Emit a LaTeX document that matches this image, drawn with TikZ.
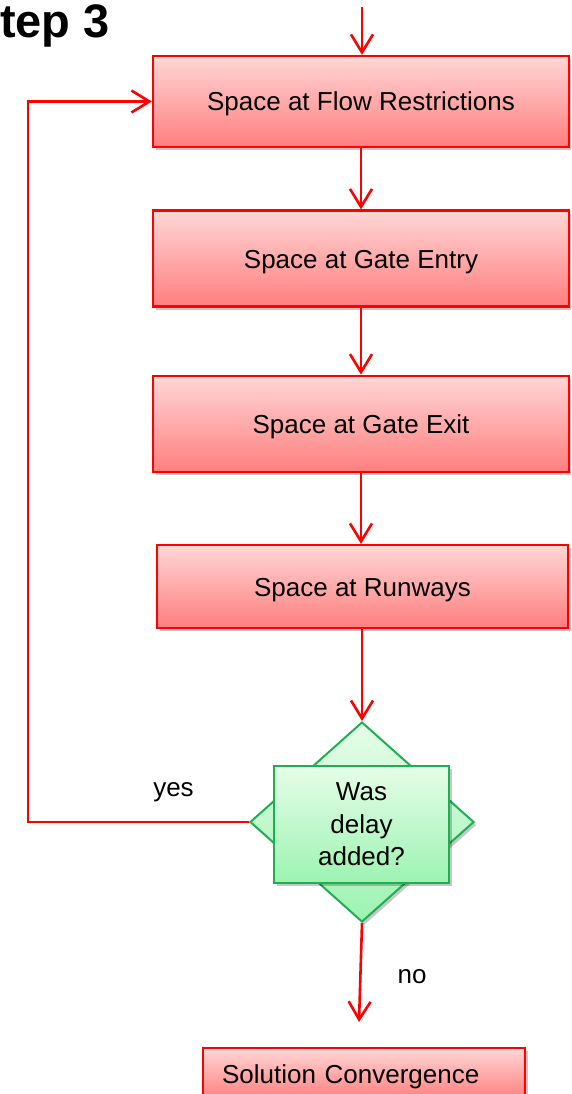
\documentclass[tikz,border=0pt]{standalone}
\usepackage{fontspec}
\setmainfont{Liberation Sans}
\usetikzlibrary{arrows.meta,shadows,shapes.geometric,calc}

\definecolor{linered}{RGB}{255,0,0}
\definecolor{redtop}{RGB}{255,214,214}
\definecolor{redbot}{RGB}{255,126,126}
\definecolor{grnline}{RGB}{30,175,80}
\definecolor{grntop}{RGB}{230,253,232}
\definecolor{grnbot}{RGB}{156,243,178}

\tikzset{
  softshadow/.style={drop shadow={opacity=0.22,shadow xshift=2.5pt,shadow yshift=-3pt,fill=black}},
  procbox/.style={rectangle, draw=linered, line width=2.2pt, top color=redtop, bottom color=redbot,
    softshadow, inner sep=0pt, align=center, text height=19pt, text depth=0pt},
  decisionshape/.style={diamond, draw=grnline, line width=2pt, top color=grntop, bottom color=grnbot,
    softshadow, inner sep=0pt, minimum width=224pt, minimum height=200pt},
  decisionbox/.style={rectangle, draw=grnline, line width=2pt, top color=grntop, bottom color=grnbot,
    softshadow, inner sep=0pt, align=center, minimum width=175pt, minimum height=117pt},
  flow/.style={draw=linered, line width=2.6pt, -{Straight Barb[length=18pt,width=22pt]}},
}

\begin{document}
\begin{tikzpicture}[x=1pt,y=-1pt,font=\fontsize{26}{32.5}\selectfont]
  \useasboundingbox (0,0) rectangle (571,1094);
  \clip (0,0) rectangle (571,1094);

  % heading
  \node[anchor=base east, inner sep=0pt, font=\fontsize{47}{50}\selectfont\bfseries] (title) at (110,38) {tep 3};

  % process boxes
  \node[procbox, minimum width=416pt, minimum height=91pt] (b1) at (361,101.5) {Space at Flow Restrictions};
  \node[procbox, minimum width=416pt, minimum height=96pt] (b2) at (361,258.5) {Space at Gate Entry};
  \node[procbox, minimum width=416pt, minimum height=96.5pt] (b3) at (361,424) {Space at Gate Exit};
  \node[procbox, minimum width=411pt, minimum height=83pt] (b4) at (362.5,586.5) {Space at Runways};

  % decision
  \node[decisionshape] (d) at (362,822) {};
  \node[decisionbox] (q) at (361.5,824.5) {Was\\delay\\added?};

  % final box
  \node[procbox, anchor=north west, align=left, text width=284pt, inner xsep=19pt,
        minimum height=52pt] (sol) at (202,1047) {Solution Convergence};

  % helper points
  \coordinate (start) at (362,7);
  \coordinate (loopx) at (28,0);
  \coordinate (noend) at (359,1022);

  % connectors
  \draw[flow] (start) -- (start |- b1.north);
  \draw[flow] (b1.south) -- (b1.south |- b2.north);
  \draw[flow] (b2.south) -- (b2.south |- b3.north);
  \draw[flow] (b3.south) -- (b3.south |- b4.north);
  \draw[flow] (b4.south -| d.north) -- (d.north);
  \draw[flow] (d.west) -- (d.west -| loopx) |- (b1.west);
  \draw[flow] (d.south) -- (noend);

  % branch labels
  \node[anchor=base, inner sep=0pt] (yes) at (173.5,796.5) {yes};
  \node[anchor=base, inner sep=0pt] (no) at (412,983) {no};
\end{tikzpicture}
\end{document}
